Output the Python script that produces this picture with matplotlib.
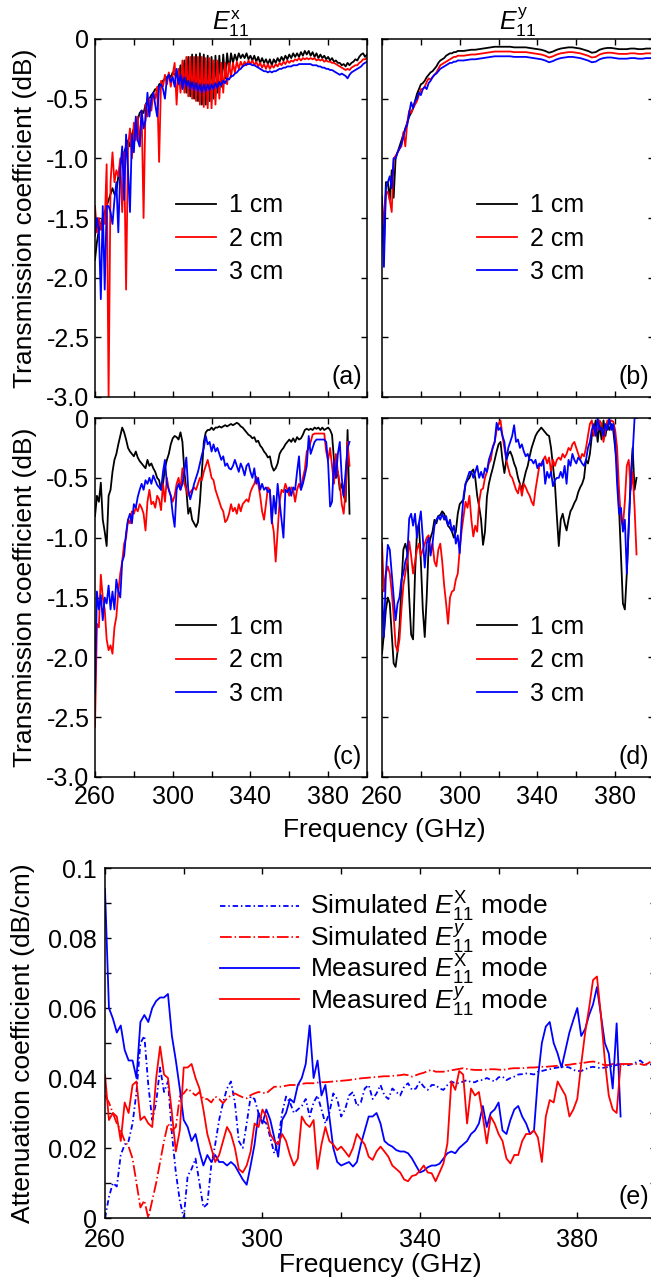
import matplotlib
matplotlib.use("Agg")
import matplotlib.pyplot as plt
import numpy as np

plt.rcParams['font.family'] = ['Liberation Sans', 'DejaVu Sans']
plt.rcParams['axes.unicode_minus'] = False
plt.rcParams['mathtext.fontset'] = 'custom'
plt.rcParams['mathtext.rm'] = 'Liberation Sans'
plt.rcParams['mathtext.it'] = 'Liberation Sans:italic'
plt.rcParams['mathtext.bf'] = 'Liberation Sans:bold'

# ---------------- data ----------------
lengths = ['1 cm', '2 cm', '3 cm']
colors = ['black', 'red', 'blue']

# (a) E11x, 260..400 GHz, 1 GHz step
freq_a = np.arange(260, 401)
a_1cm = [-1.85, -1.7, -1.6, -1.55, -1.5, -1.45, -1.4, -1.35, -1.3, -1.25,
         -1.3, -1.28, -1.15, -1.05, -1.0, -0.95, -0.9, -0.85, -0.9, -0.8,
         -0.75, -0.7, -0.68, -0.62, -0.6, -0.62, -0.55, -0.52, -0.5, -0.47,
         -0.45, -0.42, -0.43, -0.38, -0.37, -0.35, -0.33, -0.32, -0.3, -0.32,
         -0.28, -0.3, -0.27, -0.35, -0.22, -0.4, -0.18, -0.45, -0.15, -0.48,
         -0.13, -0.5, -0.13, -0.52, -0.12, -0.55, -0.13, -0.55, -0.14, -0.52,
         -0.15, -0.5, -0.14, -0.45, -0.14, -0.4, -0.13, -0.33, -0.12, -0.26,
         -0.12, -0.2, -0.13, -0.18, -0.12, -0.16, -0.13, -0.16, -0.12, -0.17,
         -0.14, -0.18, -0.14, -0.19, -0.15, -0.2, -0.16, -0.2, -0.17, -0.21,
         -0.17, -0.22, -0.17, -0.2, -0.16, -0.19, -0.15, -0.18, -0.14, -0.17,
         -0.13, -0.16, -0.12, -0.15, -0.12, -0.15, -0.11, -0.14, -0.1, -0.13,
         -0.1, -0.14, -0.11, -0.15, -0.12, -0.16, -0.13, -0.16, -0.14, -0.17,
         -0.15, -0.18, -0.16, -0.19, -0.18, -0.2, -0.2, -0.22, -0.21, -0.23,
         -0.2, -0.22, -0.2, -0.19, -0.17, -0.18, -0.15, -0.13, -0.12, -0.15,
         -0.13]
a_2cm = [-1.4, -1.62, -1.5, -1.6, -1.5, -1.55, -1.05, -3.0, -1.2, -0.95,
         -1.2, -1.1, -1.15, -1.0, -1.45, -0.95, -2.1, -0.9, -0.75, -1.0,
         -0.7, -0.85, -0.65, -0.9, -0.6, -1.5, -0.55, -0.65, -0.5, -0.6,
         -0.45, -0.5, -0.4, -1.03, -0.35, -0.4, -0.3, -0.38, -0.28, -0.4,
         -0.3, -0.2, -0.55, -0.25, -0.45, -0.18, -0.45, -0.15, -0.48, -0.15,
         -0.5, -0.15, -0.52, -0.15, -0.55, -0.15, -0.57, -0.16, -0.58, -0.16,
         -0.58, -0.18, -0.55, -0.18, -0.5, -0.2, -0.45, -0.2, -0.38, -0.2,
         -0.32, -0.2, -0.28, -0.19, -0.25, -0.19, -0.23, -0.19, -0.22, -0.18,
         -0.21, -0.18, -0.22, -0.19, -0.23, -0.2, -0.24, -0.21, -0.25, -0.21,
         -0.25, -0.22, -0.24, -0.21, -0.23, -0.2, -0.22, -0.19, -0.21, -0.18,
         -0.2, -0.18, -0.19, -0.17, -0.18, -0.16, -0.18, -0.16, -0.17, -0.16,
         -0.17, -0.16, -0.17, -0.16, -0.18, -0.17, -0.18, -0.17, -0.19, -0.18,
         -0.19, -0.19, -0.2, -0.2, -0.21, -0.22, -0.23, -0.24, -0.25, -0.26,
         -0.25, -0.26, -0.24, -0.23, -0.22, -0.22, -0.2, -0.19, -0.17, -0.17,
         -0.16]
a_3cm = [-1.65, -1.5, -1.6, -2.18, -1.4, -2.1, -1.4, -1.4, -1.45, -1.55,
         -1.35, -1.2, -1.62, -1.1, -0.9, -1.35, -0.8, -1.1, -1.45, -0.8,
         -0.95, -0.65, -0.85, -0.9, -0.6, -0.75, -0.68, -0.45, -0.65, -0.5,
         -0.45, -0.55, -0.65, -0.4, -0.38, -0.42, -0.5, -0.33, -0.3, -0.36,
         -0.32, -0.4, -0.25, -0.38, -0.3, -0.42, -0.32, -0.4, -0.35, -0.42,
         -0.36, -0.43, -0.37, -0.44, -0.38, -0.45, -0.38, -0.44, -0.38, -0.43,
         -0.38, -0.42, -0.37, -0.41, -0.36, -0.39, -0.35, -0.37, -0.33, -0.34,
         -0.31, -0.31, -0.29, -0.28, -0.26, -0.25, -0.23, -0.22, -0.21, -0.21,
         -0.21, -0.22, -0.22, -0.23, -0.24, -0.25, -0.26, -0.27, -0.27, -0.28,
         -0.27, -0.28, -0.27, -0.27, -0.26, -0.25, -0.25, -0.24, -0.24, -0.23,
         -0.23, -0.23, -0.22, -0.22, -0.22, -0.21, -0.21, -0.21, -0.21, -0.21,
         -0.21, -0.21, -0.22, -0.22, -0.22, -0.23, -0.23, -0.24, -0.24, -0.25,
         -0.25, -0.26, -0.26, -0.27, -0.28, -0.29, -0.3, -0.29, -0.3, -0.31,
         -0.33, -0.3, -0.28, -0.27, -0.26, -0.25, -0.24, -0.23, -0.21, -0.2,
         -0.19]

# (b) E11y, 1 GHz step up to 299, then 2 GHz step
freq_b = np.concatenate([np.arange(260, 300), np.arange(300, 401, 2)])
b_1cm = [-1.46, -1.76, -1.2, -1.2, -1.35, -1.1, -1.33, -1.0, -0.95, -0.9,
         -0.85, -0.8, -0.75, -0.7, -0.65, -0.62, -0.58, -0.52, -0.46, -0.42,
         -0.38, -0.37, -0.35, -0.32, -0.3, -0.28, -0.27, -0.25, -0.23, -0.2,
         -0.18, -0.17, -0.16, -0.14, -0.13, -0.12, -0.12, -0.11, -0.11, -0.1,
         -0.1, -0.1, -0.095, -0.09, -0.09, -0.085, -0.08, -0.075, -0.07, -0.065,
         -0.065, -0.065, -0.065, -0.065, -0.07, -0.07, -0.07, -0.07, -0.075, -0.08,
         -0.085, -0.09, -0.1, -0.115, -0.105, -0.09, -0.08, -0.075, -0.07, -0.07,
         -0.075, -0.08, -0.09, -0.1, -0.115, -0.11, -0.09, -0.08, -0.075, -0.075,
         -0.08, -0.085, -0.085, -0.085, -0.08, -0.08, -0.085, -0.085, -0.08, -0.08,
         -0.08]
b_2cm = [-1.6, -1.45, -1.3, -1.28, -1.35, -1.45, -1.0, -0.98, -0.95, -0.92,
         -0.9, -0.78, -0.9, -0.7, -0.6, -0.62, -0.58, -0.55, -0.52, -0.47,
         -0.42, -0.42, -0.4, -0.36, -0.33, -0.34, -0.32, -0.3, -0.28, -0.25,
         -0.22, -0.21, -0.2, -0.19, -0.18, -0.17, -0.16, -0.15, -0.15, -0.14,
         -0.14, -0.14, -0.135, -0.13, -0.13, -0.125, -0.12, -0.115, -0.11, -0.105,
         -0.105, -0.105, -0.105, -0.105, -0.11, -0.11, -0.11, -0.11, -0.115, -0.12,
         -0.125, -0.13, -0.14, -0.155, -0.145, -0.13, -0.12, -0.115, -0.11, -0.11,
         -0.115, -0.12, -0.13, -0.14, -0.155, -0.15, -0.13, -0.12, -0.115, -0.115,
         -0.12, -0.125, -0.125, -0.125, -0.12, -0.12, -0.125, -0.125, -0.12, -0.12,
         -0.12]
b_3cm = [-1.32, -1.91, -1.25, -1.2, -1.15, -1.25, -1.0, -1.0, -0.95, -0.92,
         -0.88, -0.82, -0.75, -0.72, -0.62, -0.53, -0.58, -0.52, -0.5, -0.45,
         -0.47, -0.42, -0.4, -0.42, -0.37, -0.35, -0.32, -0.3, -0.29, -0.27,
         -0.25, -0.24, -0.23, -0.22, -0.21, -0.2, -0.2, -0.19, -0.19, -0.18,
         -0.18, -0.18, -0.175, -0.17, -0.17, -0.165, -0.16, -0.155, -0.15, -0.145,
         -0.145, -0.145, -0.145, -0.145, -0.15, -0.15, -0.15, -0.15, -0.155, -0.16,
         -0.165, -0.17, -0.18, -0.195, -0.185, -0.17, -0.16, -0.155, -0.15, -0.15,
         -0.155, -0.16, -0.17, -0.18, -0.195, -0.19, -0.17, -0.16, -0.155, -0.155,
         -0.16, -0.165, -0.165, -0.165, -0.16, -0.16, -0.165, -0.165, -0.16, -0.16,
         -0.16]

# (c) E11x and (d) E11y, 260..391 GHz
freq_cd = np.arange(260, 392)
c_1cm = [-0.82, -0.65, -0.7, -0.54, -0.85, -0.95, -1.07, -0.65, -0.6, -0.45,
         -0.35, -0.3, -0.22, -0.15, -0.08, -0.12, -0.18, -0.25, -0.28, -0.3,
         -0.32, -0.28, -0.33, -0.36, -0.38, -0.4, -0.42, -0.35, -0.4, -0.38,
         -0.42, -0.45, -0.5, -0.52, -0.6, -0.55, -0.42, -0.35, -0.3, -0.22,
         -0.17, -0.15, -0.16, -0.18, -0.12, -0.2, -0.45, -0.6, -0.8, -0.75,
         -0.85, -0.88, -0.91, -0.87, -0.7, -0.45, -0.2, -0.12, -0.1, -0.1,
         -0.08, -0.1, -0.08, -0.08, -0.07, -0.08, -0.07, -0.06, -0.07, -0.06,
         -0.05, -0.06, -0.05, -0.04, -0.05, -0.07, -0.08, -0.1, -0.12, -0.14,
         -0.15, -0.17, -0.16, -0.2, -0.19, -0.23, -0.25, -0.28, -0.3, -0.33,
         -0.32, -0.4, -0.44, -0.42, -0.38, -0.3, -0.27, -0.25, -0.22, -0.2,
         -0.18, -0.2, -0.17, -0.2, -0.16, -0.18, -0.17, -0.14, -0.1, -0.09,
         -0.1, -0.09, -0.1, -0.08, -0.09, -0.08, -0.1, -0.08, -0.1, -0.09,
         -0.08, -0.1, -0.14, -0.35, -0.5, -0.45, -0.6, -0.55, -0.65, -0.7,
         -0.1, -0.8]
c_2cm = [-2.58, -1.72, -1.75, -1.31, -1.5, -1.6, -1.85, -1.94, -1.9, -1.97,
         -1.75, -1.66, -1.45, -1.3, -1.2, -1.05, -1.0, -0.85, -0.88, -0.78,
         -0.8, -0.75, -0.78, -0.72, -0.75, -0.8, -0.94, -0.7, -0.6, -0.72,
         -0.7, -0.75, -0.65, -0.68, -0.77, -0.55, -0.7, -0.5, -0.6, -0.65,
         -0.7, -0.65, -0.55, -0.5, -0.6, -0.42, -0.55, -0.6, -0.65, -0.62,
         -0.6, -0.58, -0.6, -0.55, -0.5, -0.52, -0.45, -0.4, -0.35, -0.42,
         -0.5, -0.52, -0.6, -0.65, -0.7, -0.75, -0.78, -0.87, -0.85, -0.8,
         -0.72, -0.78, -0.75, -0.8, -0.72, -0.78, -0.72, -0.7, -0.68, -0.7,
         -0.62, -0.58, -0.55, -0.49, -0.55, -0.65, -0.78, -0.85, -0.72, -0.58,
         -0.6, -0.85, -0.95, -1.2, -0.95, -0.7, -0.6, -0.62, -0.55, -0.6,
         -0.65, -0.58, -0.6, -0.7, -0.6, -0.55, -0.6, -0.5, -0.43, -0.28,
         -0.25, -0.2, -0.14, -0.13, -0.13, -0.13, -0.13, -0.13, -0.13, -0.28,
         -0.35, -0.25, -0.4, -0.55, -0.3, -0.45, -0.55, -0.72, -0.8, -0.6,
         -0.2, -0.4]
c_3cm = [-2.3, -1.45, -1.6, -1.48, -1.69, -1.5, -1.55, -1.4, -1.6, -1.45,
         -1.6, -1.35, -1.45, -1.5, -1.2, -1.15, -0.96, -0.85, -0.8, -0.88,
         -0.72, -0.75, -0.66, -0.6, -0.55, -0.6, -0.52, -0.55, -0.5, -0.55,
         -0.48, -0.52, -0.56, -0.58, -0.6, -0.45, -0.35, -0.55, -0.6, -0.65,
         -0.8, -0.91, -0.6, -0.55, -0.6, -0.55, -0.45, -0.33, -0.6, -0.68,
         -0.62, -0.55, -0.5, -0.45, -0.38, -0.31, -0.25, -0.15, -0.22, -0.2,
         -0.28, -0.22, -0.28, -0.25, -0.3, -0.35, -0.32, -0.4, -0.38, -0.42,
         -0.43, -0.4, -0.35, -0.4, -0.45, -0.38, -0.42, -0.48, -0.4, -0.38,
         -0.45, -0.5, -0.42, -0.55, -0.5, -0.6, -0.55, -0.6, -0.58, -0.62,
         -0.6, -0.88, -0.65, -0.8, -0.55, -0.7, -0.85, -1.0, -0.6, -0.62,
         -0.58, -0.65, -0.58, -0.6, -0.45, -0.32, -0.6, -0.55, -0.48, -0.4,
         -0.15, -0.3, -0.25, -0.2, -0.18, -0.18, -0.18, -0.18, -0.18, -0.2,
         -0.38, -0.74, -0.7, -0.35, -0.5, -0.3, -0.2, -0.5, -0.65, -0.45,
         -0.25, -0.2]
d_1cm = [-1.97, -1.8, -1.6, -1.5, -1.55, -1.8, -2.05, -2.08, -1.95, -1.75,
         -1.4, -1.1, -1.05, -1.12, -1.5, -1.81, -1.85, -1.3, -0.95, -0.88,
         -1.2, -1.6, -1.83, -1.5, -1.07, -1.0, -0.95, -0.85, -0.88, -0.82,
         -0.81, -0.78, -0.8, -0.85, -0.9, -0.92, -0.95, -1.0, -0.95, -0.8,
         -0.72, -0.7, -0.68, -0.55, -0.52, -0.5, -0.45, -0.43, -0.5, -0.65,
         -0.74, -0.85, -1.06, -0.95, -0.66, -0.55, -0.48, -0.42, -0.35, -0.28,
         -0.22, -0.2, -0.35, -0.46, -0.35, -0.3, -0.28, -0.32, -0.38, -0.42,
         -0.5, -0.55, -0.6, -0.52, -0.45, -0.4, -0.32, -0.25, -0.2, -0.15,
         -0.12, -0.1, -0.08, -0.1, -0.12, -0.14, -0.15, -0.25, -0.4, -0.55,
         -0.82, -1.07, -0.85, -0.8, -0.88, -0.94, -0.85, -0.78, -0.75, -0.71,
         -0.68, -0.62, -0.58, -0.55, -0.5, -0.35, -0.38, -0.3, -0.15, -0.1,
         -0.02, -0.2, -0.05, -0.18, -0.02, -0.15, -0.05, -0.1, -0.05, -0.1,
         -0.25, -0.4, -0.75, -1.16, -1.55, -1.6, -1.3, -0.9, -0.5, -0.25,
         -0.6, -0.5]
d_2cm = [-1.05, -1.45, -1.3, -1.24, -1.3, -1.45, -1.65, -1.9, -1.95, -1.85,
         -1.6, -1.4, -1.3, -1.2, -1.03, -1.15, -1.3, -1.2, -1.1, -1.05,
         -1.15, -1.1, -1.05, -1.0, -0.98, -1.12, -1.05, -1.2, -1.24, -1.1,
         -1.05, -1.2, -1.4, -1.55, -1.72, -1.5, -1.45, -1.44, -1.35, -1.3,
         -1.1, -0.94, -0.82, -0.7, -0.75, -0.65, -0.85, -0.99, -0.9, -0.95,
         -0.7, -0.6, -0.59, -0.5, -0.45, -0.38, -0.35, -0.24, -0.2, -0.1,
         -0.05, -0.02, -0.15, -0.25, -0.35, -0.42, -0.48, -0.5, -0.55, -0.6,
         -0.63, -0.55, -0.65, -0.55, -0.58, -0.62, -0.65, -0.7, -0.73, -0.6,
         -0.5, -0.4, -0.38, -0.35, -0.32, -0.38, -0.33, -0.45, -0.35, -0.4,
         -0.35, -0.33, -0.35, -0.3, -0.33, -0.3, -0.25, -0.27, -0.22, -0.2,
         -0.25, -0.3, -0.35, -0.3, -0.32, -0.25, -0.15, -0.05, -0.02, -0.15,
         -0.08, -0.1, -0.02, -0.05, -0.2, -0.1, -0.02, -0.05, -0.02, -0.03,
         -0.1, -0.25, -0.6, -0.85, -0.9, -0.7, -0.4, -0.35, -0.6, -0.45,
         -0.75, -1.14]
d_3cm = [-1.44, -1.83, -1.3, -1.06, -1.1, -1.3, -1.5, -1.69, -1.55, -1.5,
         -1.35, -1.3, -1.2, -1.15, -0.84, -0.8, -0.9, -0.8, -1.0, -0.88,
         -0.78, -1.0, -1.25, -1.05, -1.0, -1.15, -1.05, -0.9, -0.85, -0.82,
         -0.85, -0.8, -0.85, -0.82, -0.9, -0.85, -0.95, -0.9, -1.05, -0.98,
         -1.13, -0.85, -0.65, -0.55, -0.5, -0.45, -0.45, -0.5, -0.45, -0.4,
         -0.5, -0.45, -0.5, -0.42, -0.45, -0.35, -0.3, -0.25, -0.2, -0.04,
         -0.1, -0.08, -0.15, -0.2, -0.35, -0.25, -0.2, -0.15, -0.06, -0.2,
         -0.18, -0.25, -0.22, -0.28, -0.32, -0.3, -0.35, -0.35, -0.38, -0.35,
         -0.42, -0.38, -0.4, -0.35, -0.55, -0.45, -0.5, -0.45, -0.57, -0.52,
         -0.5, -0.5, -0.45, -0.5, -0.4, -0.55, -0.35, -0.4, -0.3, -0.35,
         -0.38, -0.33, -0.35, -0.38, -0.4, -0.35, -0.25, -0.2, -0.1, -0.05,
         -0.15, 0.0, -0.1, -0.08, -0.15, -0.05, -0.1, 0.0, -0.1, -0.05,
         -0.2, -0.55, -0.8, -0.75, -0.95, -0.85, -1.3, -0.9, -0.55, -0.3,
         0.0, 0.0]

# (e) attenuation coefficient
freq_meas = np.arange(260, 392)
freq_sim = np.arange(260, 401)
meas_x = [0.094, 0.06, 0.057, 0.053, 0.055, 0.048, 0.045, 0.045, 0.04, 0.056,
          0.058, 0.056, 0.06, 0.062, 0.063, 0.063, 0.064, 0.052, 0.045, 0.037,
          0.028, 0.026, 0.022, 0.024, 0.019, 0.015, 0.018, 0.016, 0.018, 0.016,
          0.016, 0.015, 0.016, 0.015, 0.013, 0.011, 0.0095, 0.015, 0.021, 0.03,
          0.027, 0.031, 0.028, 0.023, 0.0175, 0.028, 0.03, 0.034, 0.033, 0.038,
          0.04, 0.044, 0.055, 0.04, 0.045, 0.035, 0.038, 0.029, 0.02, 0.016,
          0.015, 0.0155, 0.016, 0.0147, 0.016, 0.021, 0.025, 0.029, 0.029, 0.03,
          0.027, 0.022, 0.021, 0.0204, 0.0194, 0.019, 0.019, 0.0185, 0.017, 0.015,
          0.013, 0.0135, 0.0145, 0.015, 0.015, 0.0155, 0.017, 0.0185, 0.019, 0.0185,
          0.02, 0.021, 0.022, 0.024, 0.025, 0.027, 0.032, 0.026, 0.03, 0.031,
          0.033, 0.025, 0.024, 0.028, 0.031, 0.032, 0.029, 0.027, 0.024, 0.025,
          0.04, 0.05, 0.0547, 0.056, 0.05, 0.047, 0.043, 0.048, 0.053, 0.0566,
          0.06, 0.052, 0.054, 0.058, 0.061, 0.066, 0.058, 0.05, 0.047, 0.037,
          0.0556, 0.029]
meas_y = [0.041, 0.028, 0.03, 0.029, 0.022, 0.033, 0.03, 0.038, 0.039, 0.028,
          0.029, 0.027, 0.026, 0.04, 0.049, 0.041, 0.04, 0.03, 0.019, 0.025,
          0.043, 0.043, 0.044, 0.04, 0.037, 0.031, 0.024, 0.02, 0.016, 0.018,
          0.022, 0.026, 0.024, 0.02, 0.014, 0.013, 0.015, 0.019, 0.027, 0.026,
          0.031, 0.029, 0.024, 0.022, 0.021, 0.024, 0.022, 0.018, 0.015, 0.017,
          0.029, 0.027, 0.026, 0.028, 0.014, 0.021, 0.026, 0.022, 0.021, 0.0194,
          0.0204, 0.019, 0.0175, 0.02, 0.024, 0.0225, 0.021, 0.0175, 0.0166, 0.019,
          0.0204, 0.019, 0.0175, 0.015, 0.014, 0.013, 0.011, 0.0105, 0.012, 0.0123,
          0.0135, 0.015, 0.013, 0.0128, 0.0105, 0.013, 0.0156, 0.0213, 0.039, 0.0366,
          0.042, 0.041, 0.027, 0.037, 0.035, 0.036, 0.029, 0.0213, 0.029, 0.027,
          0.024, 0.022, 0.017, 0.0156, 0.018, 0.018, 0.022, 0.024, 0.024, 0.025,
          0.023, 0.016, 0.029, 0.0337, 0.033, 0.039, 0.037, 0.035, 0.029, 0.031,
          0.034, 0.044, 0.053, 0.06, 0.068, 0.069, 0.058, 0.045, 0.035, 0.031,
          0.03, 0.044]
sim_x = [0.0, 0.006, 0.01, 0.009, 0.018, 0.021, 0.022, 0.027, 0.036, 0.05,
         0.052, 0.038, 0.028, 0.033, 0.043, 0.036, 0.039, 0.024, 0.013, 0.005,
         0.0, 0.012, 0.014, 0.017, 0.01, 0.003, 0.004, 0.015, 0.021, 0.028,
         0.033, 0.037, 0.039, 0.033, 0.022, 0.02, 0.027, 0.0347, 0.034, 0.03,
         0.028, 0.027, 0.023, 0.0185, 0.022, 0.03, 0.0347, 0.033, 0.03, 0.031,
         0.032, 0.034, 0.029, 0.033, 0.035, 0.031, 0.027, 0.03, 0.0356, 0.034,
         0.029, 0.031, 0.035, 0.036, 0.032, 0.033, 0.037, 0.038, 0.034, 0.0356,
         0.038, 0.035, 0.034, 0.037, 0.036, 0.035, 0.0375, 0.0385, 0.0366, 0.037,
         0.039, 0.0375, 0.0366, 0.038, 0.038, 0.037, 0.0366, 0.038, 0.039, 0.0385,
         0.0385, 0.039, 0.0394, 0.0388, 0.0388, 0.0394, 0.0394, 0.04, 0.0395, 0.039,
         0.0402, 0.0404, 0.0394, 0.04, 0.0404, 0.041, 0.0411, 0.0413, 0.0412, 0.041,
         0.0418, 0.042, 0.0423, 0.0425, 0.0428, 0.043, 0.0432, 0.0432, 0.043, 0.0423,
         0.042, 0.042, 0.0425, 0.043, 0.0432, 0.043, 0.0428, 0.043, 0.0432, 0.0435,
         0.0437, 0.044, 0.0438, 0.0437, 0.044, 0.0445, 0.045, 0.044, 0.0437, 0.044,
         0.044]
sim_y = [0.035, 0.033, 0.03, 0.027, 0.025, 0.022, 0.0204, 0.017, 0.01, 0.003,
         0.005, 0.0, 0.005, 0.01, 0.016, 0.022, 0.027, 0.025, 0.026, 0.0347,
         0.0356, 0.037, 0.036, 0.035, 0.036, 0.034, 0.034, 0.033, 0.0347, 0.034,
         0.0328, 0.0342, 0.035, 0.0356, 0.035, 0.0345, 0.0342, 0.0351, 0.0356, 0.036,
         0.0358, 0.0356, 0.0366, 0.0375, 0.0375, 0.0375, 0.0378, 0.038, 0.038, 0.038,
         0.0383, 0.0385, 0.0385, 0.0385, 0.0387, 0.0388, 0.0388, 0.0389, 0.039, 0.0391,
         0.0392, 0.0393, 0.0394, 0.0396, 0.0397, 0.0399, 0.04, 0.0401, 0.0402, 0.0403,
         0.0404, 0.0405, 0.0405, 0.0406, 0.0407, 0.0408, 0.041, 0.0408, 0.0404, 0.0408,
         0.0412, 0.0415, 0.042, 0.0423, 0.0418, 0.0418, 0.0418, 0.042, 0.0422, 0.0424,
         0.0426, 0.0428, 0.0426, 0.0424, 0.0423, 0.0423, 0.0423, 0.0424, 0.0425, 0.0425,
         0.0424, 0.0423, 0.0425, 0.0427, 0.0428, 0.0428, 0.0428, 0.0429, 0.043, 0.043,
         0.0431, 0.0432, 0.0432, 0.0433, 0.0434, 0.0435, 0.0436, 0.0437, 0.0438, 0.044,
         0.0441, 0.0443, 0.0444, 0.0446, 0.0447, 0.0445, 0.044, 0.0437, 0.0437, 0.044,
         0.044, 0.044, 0.044, 0.044, 0.044, 0.044, 0.044, 0.0437, 0.0442, 0.045,
         0.045]

xticks = np.arange(260, 401, 20)
xticklabels = ['260', '', '300', '', '340', '', '380', '']
yticks_t = np.arange(-3.0, 0.01, 0.5)
yticklabels_t = ['0' if abs(v) < 1e-9 else f'{v:.1f}' for v in yticks_t]
yticks_e = np.arange(0, 0.1001, 0.01)
yticklabels_e = ['0', '', '0.02', '', '0.04', '', '0.06', '', '0.08', '', '0.1']

# ---------------- figure ----------------
W, H = 651, 1277
fig = plt.figure(figsize=(W / 100, H / 100), dpi=100)


def box(x0, y0, x1, y1):
    return [x0 / W, 1 - y1 / H, (x1 - x0) / W, (y1 - y0) / H]


def style(ax, labelbottom, labelleft):
    ax.tick_params(direction='in', top=True, right=True, length=4, width=1,
                   labelsize=18, pad=6)
    ax.tick_params(axis='y', pad=4)
    for s in ax.spines.values():
        s.set_linewidth(1.1)
    ax.tick_params(labelbottom=labelbottom, labelleft=labelleft)


panels = [
    (box(95, 39, 367, 397), freq_a, [a_1cm, a_2cm, a_3cm], False, True, '(a)', 0.569),
    (box(382, 39, 654, 397), freq_b, [b_1cm, b_2cm, b_3cm], False, False, '(b)', 0.569),
    (box(95, 418, 367, 777), freq_cd, [c_1cm, c_2cm, c_3cm], True, True, '(c)', 0.451),
    (box(382, 418, 654, 777), freq_cd, [d_1cm, d_2cm, d_3cm], True, False, '(d)', 0.451),
]

axes = []
for rect, f, series, lb, ll, tag, legy in panels:
    ax = fig.add_axes(rect)
    for vals, c, lab in zip(series, colors, lengths):
        ax.plot(f, vals, color=c, lw=1.3, label=lab)
    ax.set_xlim(260, 400)
    ax.set_ylim(-3.0, 0.0)
    ax.set_xticks(xticks)
    ax.set_xticklabels(xticklabels)
    ax.set_yticks(yticks_t)
    ax.set_yticklabels(yticklabels_t)
    style(ax, lb, ll)
    legx = 0.298 if ll else 0.35
    ax.legend(loc='upper left', bbox_to_anchor=(legx, legy), frameon=False,
              fontsize=18, handlelength=1.6, handletextpad=0.5,
              labelspacing=0.37, borderpad=0, borderaxespad=0)
    ax.text(0.982, 0.036, tag, transform=ax.transAxes, ha='right',
            va='baseline', fontsize=18)
    axes.append(ax)

axes[0].set_title(r'$E_{11}^{\mathrm{x}}$', fontsize=18, pad=2)
axes[1].set_title(r'$E_{11}^{\mathrm{y}}$', fontsize=18, pad=2)

fig.text(25 / W, 1 - 218 / H, 'Transmission coefficient (dB)', rotation=90,
         ha='center', va='center', fontsize=19)
fig.text(25 / W, 1 - 597 / H, 'Transmission coefficient (dB)', rotation=90,
         ha='center', va='center', fontsize=19)
fig.text(384 / W, 1 - 830 / H, 'Frequency (GHz)', ha='center', va='center',
         fontsize=19)

# panel (e)
ax = fig.add_axes(box(105, 868, 656, 1218))
ax.plot(freq_sim, sim_x, color='blue', lw=1.3, dashes=(3, 1.6, 0.8, 1.6),
        label=r'Simulated $E_{11}^{\mathrm{X}}$ mode')
ax.plot(freq_sim, sim_y, color='red', lw=1.3, dashes=(6.5, 1.6, 0.8, 1.6),
        label=r'Simulated $E_{11}^{y}$ mode')
ax.plot(freq_meas, meas_x, color='blue', lw=1.3,
        label=r'Measured $E_{11}^{\mathrm{X}}$ mode')
ax.plot(freq_meas, meas_y, color='red', lw=1.3,
        label=r'Measured $E_{11}^{y}$ mode')
ax.set_xlim(260, 400)
ax.set_ylim(0, 0.1)
ax.set_xticks(xticks)
ax.set_xticklabels(xticklabels)
ax.set_yticks(yticks_e)
ax.set_yticklabels(yticklabels_e)
style(ax, True, True)
ax.tick_params(axis='y', pad=6)
ax.tick_params(axis='x', pad=7.5)
ax.set_xlabel('Frequency (GHz)', fontsize=19, labelpad=0.5)
ax.legend(loc='upper left', bbox_to_anchor=(0.2087, 0.937), frameon=False,
          fontsize=19, handlelength=3.0, handletextpad=0.4,
          labelspacing=-0.1, borderpad=0, borderaxespad=0)
ax.text(0.987, 0.04, '(e)', transform=ax.transAxes, ha='right',
        va='baseline', fontsize=18)
fig.text(23 / W, 1 - 1043 / H, 'Attenuation coefficient (dB/cm)', rotation=90,
         ha='center', va='center', fontsize=19)

fig.savefig('out.png', dpi=100)
